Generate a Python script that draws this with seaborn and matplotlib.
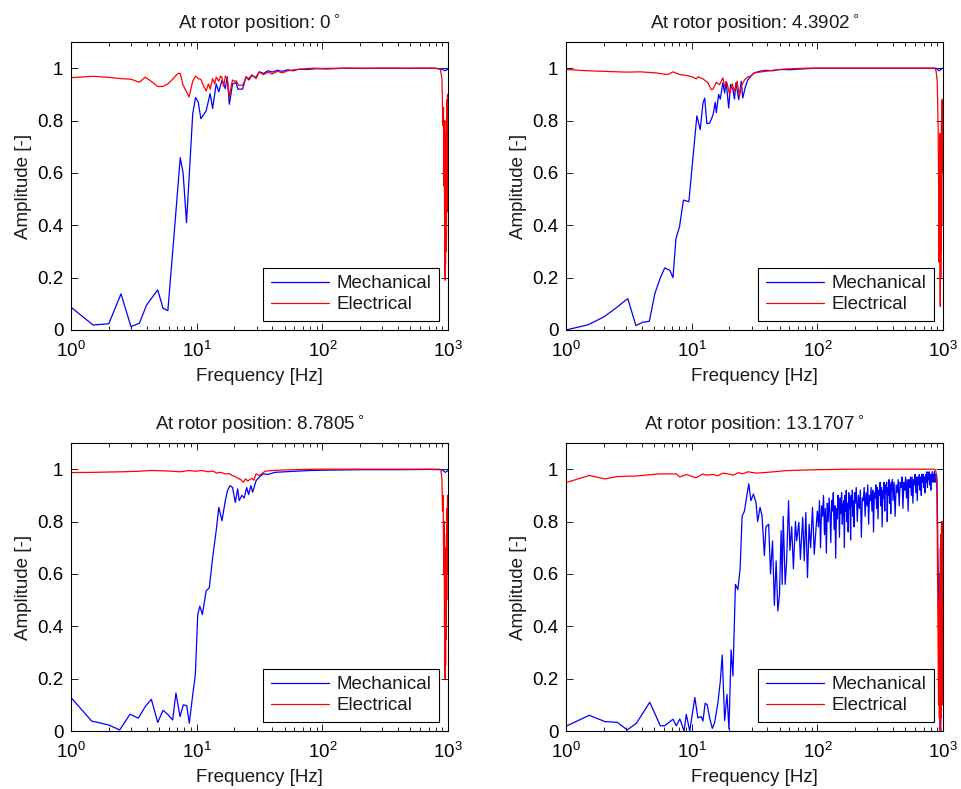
import matplotlib
matplotlib.use("Agg")

import matplotlib.pyplot as plt
import seaborn as sns
from matplotlib.ticker import FixedLocator, FuncFormatter, LogLocator, NullFormatter

# ---- data ----
TITLES = ["At rotor position: 0$^\\circ$", "At rotor position: 4.3902$^\\circ$",
          "At rotor position: 8.7805$^\\circ$", "At rotor position: 13.1707$^\\circ$"]

# panel 1 (0 deg)
P1_MECH_F = [1, 1.5, 2, 2.5, 3, 3.5, 4, 4.9, 5.4, 5.9,
             6.6, 7.4, 7.8, 8.3, 8.8, 9.3, 9.8, 10.3, 10.8, 11.9,
             12.8, 13.4, 14.3, 15.0, 15.9, 16.9, 17.5, 18.2, 19.3, 20.6,
             21.3, 23.2, 24.7, 26.0, 27.5, 29.7, 31.5, 34, 37, 40,
             44, 48, 53, 58, 65, 75, 90, 110, 150, 200,
             300, 400, 500, 600, 700, 800, 870, 920, 950, 980, 1000]
P1_MECH_A = [.087, .019, .024, .138, .013, .026, .096, .153, .083, .074,
             .36, .658, .60, .41, .62, .826, .888, .87, .807, .837,
             .903, .846, .94, .91, .954, .922, .967, .862, .94, .945,
             .92, .92, .967, .955, .972, .965, .986, .98, .99, .985,
             .992, .988, .994, .99, .996, .995, .998, .997, 1.0, .999,
             1.0, 1.0, .999, 1.0, 1.0, .999, .998, .993, .99, .995, .995]
P1_ELEC_F = [1, 1.5, 2, 2.5, 3, 3.5, 3.9, 4.4, 4.9, 5.4,
             5.9, 6.5, 7.1, 7.4, 7.8, 8.3, 8.7, 9.3, 9.8, 10.3,
             10.8, 11.4, 11.9, 12.4, 12.8, 13.4, 13.9, 14.3, 15.0, 15.5,
             15.9, 16.4, 16.9, 17.5, 18.2, 18.8, 19.3, 20.0, 20.6, 21.5,
             23.2, 24.0, 24.7, 26, 27.5, 29.7, 31.5, 34, 37, 40,
             44, 48, 53, 60, 70, 85, 100, 150, 250, 400,
             600, 800, 870, 895, 910, 920, 928, 935, 940, 944,
             948, 952, 956, 960, 964, 968, 972, 976, 980, 984,
             988, 992, 996, 1000]
P1_ELEC_A = [.964, .969, .965, .96, .958, .946, .966, .948, .93, .93,
             .94, .96, .98, .98, .935, .91, .89, .95, .97, .96,
             .957, .93, .913, .94, .92, .96, .94, .966, .95, .97,
             .965, .93, .97, .96, .89, .93, .955, .95, .952, .935,
             .935, .95, .967, .96, .975, .96, .985, .975, .985, .978,
             .988, .982, .99, .994, .997, 1.0, .999, 1.0, 1.0, 1.0,
             1.0, 1.0, .995, .96, .78, .85, .55, .8, .3, .7,
             .19, .6, .25, .75, .3, .8, .35, .85, .45, .88,
             .5, .9, .6, .9]

# panel 2 (4.3902 deg)
P2_MECH_F = [1, 1.5, 2, 2.5, 3.1, 3.6, 4.1, 4.6, 5.1, 5.6,
             6.1, 6.7, 7.1, 7.5, 8.0, 8.6, 9.5, 10.2, 11.0, 11.7,
             12.3, 12.7, 13.2, 13.9, 14.8, 15.4, 15.7, 16.4, 16.9, 17.7,
             18.3, 18.8, 19.7, 20.4, 21.3, 21.9, 22.5, 23.7, 24.8, 25.5,
             26.8, 28.0, 29.6, 31.5, 34.7, 39, 44, 50, 60, 81,
             100, 200, 400, 700, 880, 930, 960, 1000]
P2_MECH_A = [0, .02, .05, .084, .12, .017, .03, .033, .14, .196,
             .237, .228, .2, .35, .394, .496, .49, .65, .818, .765,
             .867, .886, .788, .79, .822, .87, .83, .9, .882, .944,
             .905, .95, .848, .937, .918, .882, .944, .88, .95, .886,
             .93, .956, .97, .982, .988, .992, .99, .995, .994, .998,
             1.0, 1.0, 1.0, 1.0, 1.0, .99, .995, 1.0]
P2_ELEC_F = [1, 1.5, 3.0, 3.9, 5.2, 5.9, 6.5, 7.1, 8.0, 9.1,
             10.1, 10.9, 11.2, 12.3, 13.5, 14.3, 14.8, 15.7, 16.7, 17.7,
             18.3, 19.1, 20.0, 21.0, 21.9, 23.0, 24.0, 25.0, 26.4, 28.0,
             29.6, 31.5, 34.7, 39, 44, 56, 81, 150, 300, 600,
             860, 880, 900, 915, 925, 930, 935, 940, 945, 949,
             952, 956, 960, 964, 968, 972, 976, 980, 985, 990,
             995, 1000]
P2_ELEC_A = [.995, .99, .985, .986, .982, .978, .976, .986, .976, .972,
             .967, .959, .967, .959, .944, .918, .92, .946, .937, .963,
             .93, .945, .90, .94, .91, .95, .893, .935, .956, .967,
             .97, .982, .985, .988, .992, .997, 1.0, 1.0, 1.0, 1.0,
             1.0, .99, .95, .77, .5, .26, .6, .3, .75, .15,
             .09, .6, .2, .7, .3, .8, .4, .85, .88, .6,
             .88, .88]

# panel 3 (8.7805 deg)
P3_MECH_F = [1, 1.46, 2.0, 2.44, 2.95, 3.43, 3.93, 4.36, 4.9, 5.4,
             5.88, 6.44, 6.84, 7.37, 7.83, 8.33, 8.74, 9.3, 9.76, 10.2,
             10.6, 11.1, 11.9, 12.6, 13.4, 14.3, 15.0, 15.9, 16.9, 17.6,
             18.4, 19.3, 20.3, 21.2, 21.8, 22.9, 23.9, 25.0, 25.9, 27.0,
             27.9, 29.7, 31.5, 33.9, 37, 42, 50, 60, 80, 100,
             200, 400, 700, 900, 950, 1000]
P3_MECH_A = [.128, .038, .023, .004, .064, .049, .096, .121, .033, .079,
             .064, .042, .145, .055, .1, .097, .03, .138, .215, .445,
             .477, .445, .535, .547, .662, .765, .854, .803, .88, .918,
             .937, .93, .873, .925, .88, .9, .89, .93, .903, .937,
             .912, .956, .97, .982, .98, .988, .99, .992, .995, .996,
             .998, .998, .999, .998, .988, .995]
P3_ELEC_F = [1, 1.5, 2.5, 3.4, 4.4, 5.9, 7.4, 8.7, 9.8, 11,
             12.4, 13.4, 14.5, 15.5, 16.9, 18.2, 19.3, 20.3, 21.3, 22.5,
             23.5, 24.5, 25.5, 26.5, 27.5, 28.5, 29.7, 31.5, 35, 40,
             50, 70, 100, 200, 400, 700, 860, 880, 895, 905,
             915, 925, 932, 938, 944, 948, 952, 957, 962, 967,
             972, 977, 982, 987, 992, 996, 1000]
P3_ELEC_A = [.987, .988, .99, .992, .995, .993, .99, .995, .992, .995,
             .99, .993, .985, .988, .982, .983, .975, .972, .965, .96,
             .95, .963, .955, .96, .965, .958, .982, .976, .992, .995,
             .997, .999, 1.0, 1.0, 1.0, 1.0, 1.0, .995, .96, .84,
             .9, .6, .8, .4, .7, .2, .5, .25, .6, .35,
             .75, .5, .85, .6, .9, .75, .9]

# panel 4 (13.1707 deg)
P4_MECH_F = [1.02, 1.53, 2.04, 2.57, 3.07, 3.64, 4.64, 5.63, 6.1, 7.1,
             7.54, 8.05, 8.7, 9.06, 9.65, 10.6, 11.2, 11.9, 12.3, 12.8,
             13.3, 13.9, 14.6, 15.2, 16.2, 16.9, 17.5, 18.3, 19.1, 19.8,
             20.6, 21.3, 22.3, 23.3, 24.3, 25.2, 26.3, 27.5, 28.5, 29.6,
             31, 32.5, 33.5, 35, 36.3, 37.9, 39, 41, 42.4, 44,
             45.5, 47, 48.5, 50, 51.5, 52.5, 53.5, 55.5, 57, 59,
             60.5, 62.5, 64.5, 67, 68.5, 71.3, 73.3, 76.5, 78.7, 81,
             83.5, 86, 88.5, 91.5, 94.5, 97.5,
             100, 102, 104, 106, 108, 110, 112, 114, 116, 118,
             120, 122, 124, 126, 128, 130, 132, 134, 136, 138,
             140, 142, 144, 146, 148, 150, 152, 154, 156, 158,
             160, 162, 164, 166, 168, 170, 172, 174, 176, 178,
             180, 182, 184, 186, 188, 190, 192, 194, 196, 198,
             200, 204, 208, 212, 216, 220, 224, 228, 232, 236,
             240, 244, 248, 252, 256, 260, 264, 268, 272, 276,
             280, 284, 288, 292, 296, 300, 304, 308, 312, 316,
             320, 324, 328, 332, 336, 340, 344, 348, 352, 356,
             360, 364, 368, 372, 376, 380, 384, 388, 392, 396,
             400, 408, 416, 424, 432, 440, 448, 456, 464, 472,
             480, 488, 496, 504, 512, 520, 528, 536, 544, 552,
             560, 568, 576, 584, 592, 600, 608, 616, 624, 632,
             640, 648, 656, 664, 672, 680, 688, 696, 704, 712,
             720, 728, 736, 744, 752, 760, 768, 776, 784, 792,
             800, 808, 816, 824, 832, 840, 848, 856, 864, 872,
             880, 888, 896, 905, 918, 930, 945, 958, 972, 986, 1000]
P4_MECH_A = [.02, .06, .036, .033, .004, .03, .11, .02, .02, .045,
             .02, .046, 0, .064, 0, .128, .05, .055, .038, .106,
             .1, .05, .01, .03, .11, .19, .29, .04, .14, .008,
             .31, .21, .56, .54, .62, .82, .84, .9, .944, .88,
             .905, .873, .80, .854, .822, .67, .78, .79, .6, .726,
             .48, .65, .458, .52, .765, .56, .82, .56, .65, .88,
             .69, .78, .62, .80, .726, .797, .656, .816, .65, .835,
             .586, .79, .7, .854, .675, .77,
             .84, .78, .88, .70, .86, .82, .90, .75, .85, .68,
             .87, .80, .89, .83, .72, .88, .84, .91, .77, .86,
             .66, .85, .81, .90, .87, .74, .89, .83, .91, .79,
             .86, .88, .70, .90, .84, .92, .80, .87, .76, .91,
             .85, .89, .73, .90, .86, .92, .82, .88, .78, .91,
             .87, .93, .80, .90, .85, .92, .74, .89, .88, .93,
             .82, .91, .86, .94, .79, .90, .88, .93, .84, .92,
             .76, .91, .89, .94, .85, .93, .81, .92, .90, .95,
             .86, .93, .78, .92, .89, .95, .84, .94, .91, .95,
             .80, .93, .90, .96, .87, .94, .83, .95, .92, .96,
             .88, .95, .82, .94, .91, .96, .86, .95, .93, .97,
             .85, .95, .92, .97, .89, .96, .84, .96, .93, .97,
             .90, .97, .87, .96, .94, .98, .91, .97, .88, .97,
             .94, .98, .92, .97, .90, .98, .95, .98, .93, .97,
             .91, .98, .95, .99, .93, .98, .96, .99, .94, .98,
             .92, .98, .96, .99, .95, .98, .97, .99, .95, .98,
             .97, .98, .96, .8, .55, .215, .05, 0, .15, .34, .48]
P4_ELEC_F = [1.02, 1.53, 2.04, 2.57, 3.64, 5.5, 7.54, 8.05, 9.06, 10.8,
             12.3, 13.0, 14.6, 16.2, 17.7, 19.5, 21.5, 23.5, 25.5, 28,
             33, 40, 45, 55, 70, 100, 200, 500, 860, 880,
             895, 905, 915, 922, 930, 936, 942, 948, 953, 958,
             963, 968, 973, 978, 983, 988, 993, 1000]
P4_ELEC_A = [.95, .976, .963, .972, .974, .982, .982, .97, .98, .967,
             .982, .977, .98, .975, .985, .982, .977, .987, .982, .99,
             .985, .988, .99, .994, .996, .998, 1.0, 1.0, 1.0, .99,
             .9, .6, .3, .1, .5, .05, .6, 0, .7, .1,
             .75, .05, .8, .2, .8, .1, .75, .8]

PANELS = [
    (P1_MECH_F, P1_MECH_A, P1_ELEC_F, P1_ELEC_A),
    (P2_MECH_F, P2_MECH_A, P2_ELEC_F, P2_ELEC_A),
    (P3_MECH_F, P3_MECH_A, P3_ELEC_F, P3_ELEC_A),
    (P4_MECH_F, P4_MECH_A, P4_ELEC_F, P4_ELEC_A),
]
Y_TICKS = [0, 0.2, 0.4, 0.6, 0.8, 1]

# ---- style: matlab-ish boxed axes ----
sns.set_theme(style="white")
plt.rcParams['font.family'] = ['Liberation Sans', 'DejaVu Sans']
FS = 13.5
plt.rcParams.update({
    'font.size': FS,
    'axes.edgecolor': 'black',
    'axes.linewidth': 0.8,
    'xtick.direction': 'in', 'ytick.direction': 'in',
    'xtick.top': True, 'ytick.right': True,
    'xtick.bottom': True, 'ytick.left': True,
    'xtick.major.size': 5, 'ytick.major.size': 5,
    'xtick.minor.size': 3, 'xtick.minor.visible': True,
    'xtick.major.width': 0.6, 'ytick.major.width': 0.6, 'xtick.minor.width': 0.6,
    'xtick.major.pad': 8, 'ytick.major.pad': 5.5,
    'xtick.color': 'black', 'ytick.color': 'black',
    'xtick.labelsize': FS, 'ytick.labelsize': FS,
    'axes.labelsize': FS, 'axes.titlesize': FS,
    'text.color': '#1a1a1a', 'axes.labelcolor': '#1a1a1a',
})

W, H = 962, 789
fig = plt.figure(figsize=(W / 100, H / 100), dpi=100)
fig.patch.set_facecolor('white')

# axes boxes in pixel coords (left, top)
corners = [(71, 42), (566, 42), (71, 443), (566, 443)]
aw, ah = 377, 288

for i, (mf, ma, ef, ea) in enumerate(PANELS):
    left, top = corners[i]
    ax = fig.add_axes([left / W, 1 - (top + ah) / H, aw / W, ah / H])
    sns.lineplot(x=mf, y=ma, ax=ax, color='#0000ff', linewidth=0.9,
                 label='Mechanical', estimator=None, sort=False)
    sns.lineplot(x=ef, y=ea, ax=ax, color='#ff0000', linewidth=0.9,
                 label='Electrical', estimator=None, sort=False)
    ax.set_xscale('log')
    ax.set_xlim(1, 1000)
    ax.set_ylim(0, 1.1)
    ax.xaxis.set_major_locator(LogLocator(base=10, numticks=10))
    ax.xaxis.set_minor_locator(LogLocator(base=10, subs=range(2, 10), numticks=10))
    ax.xaxis.set_minor_formatter(NullFormatter())
    ax.yaxis.set_major_locator(FixedLocator(Y_TICKS))
    ax.yaxis.set_major_formatter(FuncFormatter(lambda v, p: f"{v:g}"))
    ax.tick_params(axis='both', which='both', top=True, right=True)
    ax.set_xlabel("Frequency [Hz]", labelpad=5)
    ax.set_ylabel("Amplitude [-]", labelpad=4)
    ax.set_title(TITLES[i], pad=10)
    for s in ax.spines.values():
        s.set_visible(True)
        s.set_color('black')
    leg = ax.legend(loc='lower right', frameon=True, fancybox=False,
                    edgecolor='black', framealpha=1, fontsize=FS,
                    handlelength=3.1, handletextpad=0.4, borderpad=0.4,
                    labelspacing=0.2, borderaxespad=0.5)
    leg.get_frame().set_linewidth(0.8)

fig.savefig("out.png", dpi=100)
